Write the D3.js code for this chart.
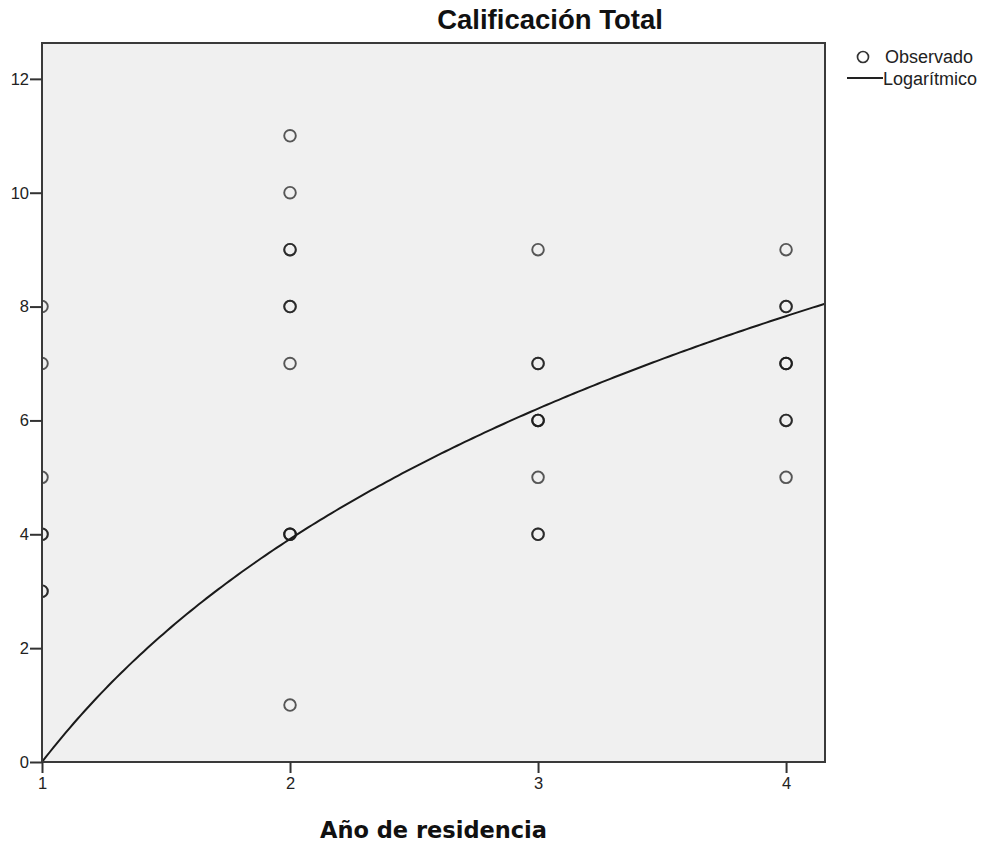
<!DOCTYPE html>
<html>
<head>
<meta charset="utf-8">
<script src="https://cdn.jsdelivr.net/npm/d3@7"></script>
<style>
  body { margin: 0; background: #fff; }
  .tick text { font-family: "Liberation Sans", Arial, sans-serif; font-size: 16.5px; fill: #222; }
</style>
</head>
<body>
<script>
// chart.js

    var width = 986,
        height = 843;

    // observations: year of residence, score, how many overlap
    var obsX     = [1, 1, 1, 1, 1,   2, 2, 2, 2, 2, 2, 2,   3, 3, 3, 3, 3,   4, 4, 4, 4, 4];
    var obsY     = [8, 7, 5, 4, 3,   11, 10, 9, 8, 7, 4, 1,  9, 7, 6, 5, 4,   9, 8, 7, 6, 5];
    var obsCount = [1, 1, 1, 2, 2,   1, 1, 2, 2, 1, 3, 1,   1, 2, 3, 1, 2,   1, 2, 3, 2, 1];

    // logarithmic fit: y = b0 + b1 * ln(x)
    var b0 = 0.0,
        b1 = 5.65;

    var xTicks = [1, 2, 3, 4];
    var yTicks = [0, 2, 4, 6, 8, 10, 12];
    var xDomain = [1, 4.157];
    var yDomain = [0, 12.63];

    // plot frame (window.top is read-only, so no "top" here)
    var plotL = 42, plotT = 43, plotR = 825, plotB = 762;

    var svg = d3.select("body").append("svg")
        .attr("width", width)
        .attr("height", height);

    var xScale = d3.scaleLinear().domain(xDomain).range([plotL, plotR]);
    var yScale = d3.scaleLinear().domain(yDomain).range([plotB, plotT]);

    // Plot background.
    svg.append("rect")
        .attr("x", plotL).attr("y", plotT)
        .attr("width", plotR - plotL).attr("height", plotB - plotT)
        .attr("fill", "#f0f0f0");

    svg.append("clipPath").attr("id", "plotclip")
        .append("rect")
        .attr("x", plotL).attr("y", plotT)
        .attr("width", plotR - plotL).attr("height", plotB - plotT);

    var plot = svg.append("g").attr("clip-path", "url(#plotclip)");

    // Expand the points so overlapping ones get darker.
    var points = [];
    obsX.forEach(function(x, i) {
        for (var k = 0; k < obsCount[i]; k++) points.push({ x: x, y: obsY[i] });
    });

    plot.selectAll("circle.obs").data(points).enter().append("circle")
        .attr("class", "obs")
        .attr("cx", function(d) { return xScale(d.x); })
        .attr("cy", function(d) { return yScale(d.y); })
        .attr("r", 5.8)
        .attr("fill", "none")
        .attr("stroke", "#1a1a1a")
        .attr("stroke-opacity", 0.72)
        .attr("stroke-width", 1.9);

    // Fitted curve.
    var curveX = d3.range(0, 201).map(function(i) { return xDomain[0] + (xDomain[1] - xDomain[0]) * i / 200; });
    var line = d3.line()
        .x(function(d) { return xScale(d); })
        .y(function(d) { return yScale(b0 + b1 * Math.log(d)); });

    plot.append("path")
        .datum(curveX)
        .attr("d", line)
        .attr("fill", "none")
        .attr("stroke", "#1a1a1a")
        .attr("stroke-width", 2);

    // Frame.
    svg.append("rect")
        .attr("x", plotL).attr("y", plotT)
        .attr("width", plotR - plotL).attr("height", plotB - plotT)
        .attr("fill", "none")
        .attr("stroke", "#3a3a3a")
        .attr("stroke-width", 2);

    // Axes.
    var xAxis = d3.axisBottom(xScale).tickValues(xTicks).tickSize(11).tickPadding(4).tickFormat(d3.format("d"));
    var yAxis = d3.axisLeft(yScale).tickValues(yTicks).tickSize(12).tickPadding(1).tickFormat(d3.format("d"));

    svg.append("g")
        .attr("transform", "translate(0," + plotB + ")")
        .call(xAxis)
        .call(function(g) { g.select(".domain").remove(); })
        .selectAll("line").attr("stroke", "#333").attr("stroke-width", 2);

    svg.append("g")
        .attr("transform", "translate(" + plotL + ",0)")
        .call(yAxis)
        .call(function(g) { g.select(".domain").remove(); })
        .selectAll("line").attr("stroke", "#333").attr("stroke-width", 2);

    // Titles.
    svg.append("text")
        .attr("x", 550).attr("y", 29)
        .attr("text-anchor", "middle")
        .style("font-family", "'Liberation Sans', Arial, sans-serif")
        .style("font-weight", "bold")
        .style("font-size", "27.5px")
        .style("fill", "#111")
        .text("Calificación Total");

    svg.append("text")
        .attr("x", (plotL + plotR) / 2).attr("y", 838)
        .attr("text-anchor", "middle")
        .style("font-family", "'DejaVu Sans', Verdana, sans-serif")
        .style("font-weight", "bold")
        .style("font-size", "22.5px")
        .style("fill", "#111")
        .text("Año de residencia");

    // Legend.
    var legend = svg.append("g");
    legend.append("circle")
        .attr("cx", 863).attr("cy", 57).attr("r", 5.5)
        .attr("fill", "none").attr("stroke", "#333").attr("stroke-width", 1.7);
    legend.append("text")
        .attr("x", 885).attr("y", 63)
        .style("font-family", "'Liberation Sans', Arial, sans-serif")
        .style("font-size", "18px").style("fill", "#222")
        .text("Observado");
    legend.append("line")
        .attr("x1", 847).attr("x2", 883).attr("y1", 78).attr("y2", 78)
        .attr("stroke", "#222").attr("stroke-width", 2);
    legend.append("text")
        .attr("x", 883).attr("y", 85)
        .style("font-family", "'Liberation Sans', Arial, sans-serif")
        .style("font-size", "18px").style("fill", "#222")
        .text("Logarítmico");

</script>
</body>
</html>
